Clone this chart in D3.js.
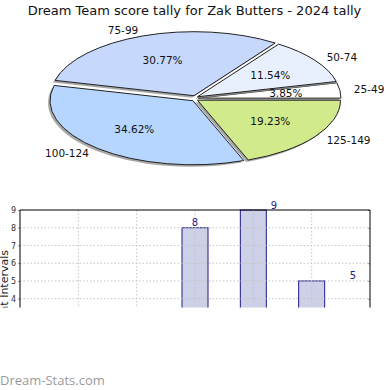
<!DOCTYPE html>
<html><head><meta charset="utf-8">
<script src="https://cdn.jsdelivr.net/npm/d3@7"></script>
<style>html,body{margin:0;padding:0;background:#fff;}svg{display:block;}</style>
</head><body>
<script>
const categories = ["25-49","50-74","75-99","100-124","125-149"];
const counts = [1,3,8,9,5];
const sliceColors = ["#ffffff","#e9f0fd","#c6d8fc","#b6d6ff","#d1ea8c"];
const yTicks = [1,2,3,4,5,6,7,8,9];
const titleText = "Dream Team score tally for Zak Butters - 2024 tally";
const yAxisTitle = "Count Intervals";

(function(){
const W = 390, H = 390;
const svg = d3.select("body").append("svg").attr("width", W).attr("height", H);

svg.append("text").attr("x", 194.5).attr("y", 15).attr("text-anchor","middle")
  .attr("font-family","DejaVu Sans").attr("font-size", 13).attr("fill","#111").text(titleText);

// ---- Pie ----
const cx = 195, cy = 98.5, rx = 143, ry = 64, explode = 3;
const total = d3.sum(counts);
const pie = d3.pie().sort(null).startAngle(Math.PI/2).endAngle(Math.PI/2 - 2*Math.PI);
const arcs = pie(counts);
const arcGen = d3.arc().innerRadius(0).outerRadius(1);
const fmt = d3.format(".2f");

const pg = svg.append("g");
arcs.forEach((d, i) => {
  const m = (d.startAngle + d.endAngle)/2;
  const ox = explode*Math.sin(m), oy = -explode*Math.cos(m);
  pg.append("path").attr("d", arcGen(d))
    .attr("transform", `translate(${cx+ox-2},${cy+oy+2}) scale(${rx},${ry})`)
    .attr("fill", "#8a8a8a").attr("opacity", 0.75);
  pg.append("path").attr("d", arcGen(d))
    .attr("transform", `translate(${cx+ox},${cy+oy}) scale(${rx},${ry})`)
    .attr("fill", sliceColors[i]).attr("stroke", "#222").attr("stroke-width", 1)
    .attr("vector-effect","non-scaling-stroke");
});
arcs.forEach((d, i) => {
  const m = (d.startAngle + d.endAngle)/2;
  const s = Math.sin(m), c = Math.cos(m);
  pg.append("text").attr("x", cx + rx*0.64*s).attr("y", cy - ry*0.64*c)
    .attr("dy","0.35em").attr("text-anchor","middle")
    .attr("font-family","DejaVu Sans").attr("font-size",10.5).attr("fill","#111")
    .text(fmt(counts[i]/total*100) + "%");
  pg.append("text").attr("x", cx + (rx+17)*s).attr("y", cy - (ry+9)*c)
    .attr("dy","0.35em").attr("text-anchor", s >= 0 ? "start" : "end")
    .attr("font-family","DejaVu Sans").attr("font-size",10.5).attr("fill","#111")
    .text(categories[i]);
});

// ---- Bar chart ----
const pLeft = 20, pRight = 370, pTop = 210, pBottom = 369.6, clipBottom = 307.5;
const defs = svg.append("defs");
defs.append("clipPath").attr("id","clipAll")
  .append("rect").attr("x",0).attr("y",195).attr("width",W).attr("height",clipBottom-195);
defs.append("clipPath").attr("id","clipLbl")
  .append("rect").attr("x",0).attr("y",195).attr("width",W).attr("height",303.5-195);
const bg = svg.append("g").attr("clip-path","url(#clipAll)");

const x = d3.scaleLinear().domain([-1, categories.length]).range([pLeft, pRight]);
const xLabel = d3.scaleLinear().domain([2, 3]).range([195, 274]);
const y = d3.scaleLinear().domain([0, 9]).range([pBottom, pTop]);
const barW = 26;

bg.selectAll("rect.bar").data(counts).join("rect").attr("class","bar")
  .attr("x", (d,i) => x(i) - barW/2).attr("y", d => y(d))
  .attr("width", barW).attr("height", d => y(0) - y(d))
  .attr("fill","#cdd0e6").attr("stroke","#1c1c86").attr("stroke-width",1);

bg.selectAll("line.hg").data(yTicks.slice(0,-1)).join("line").attr("class","hg")
  .attr("x1", pLeft).attr("x2", pRight).attr("y1", d => y(d)).attr("y2", d => y(d))
  .attr("stroke","#c4c4c4").attr("stroke-dasharray","1.5,2");
bg.selectAll("line.vg").data(categories).join("line").attr("class","vg")
  .attr("x1", (d,i) => x(i)).attr("x2", (d,i) => x(i)).attr("y1", pTop).attr("y2", pBottom)
  .attr("stroke","#c4c4c4").attr("stroke-dasharray","1.5,2");

svg.append("g").attr("clip-path","url(#clipLbl)")
  .selectAll("text.val").data(counts).join("text").attr("class","val")
  .attr("x", (d,i) => xLabel(i)).attr("y", d => y(d) - 5).attr("dy","0.35em")
  .attr("text-anchor","middle").attr("font-family","DejaVu Sans").attr("font-size",10)
  .attr("fill","#1c1c86").text(d => d);

const yAxis = d3.axisLeft(y).tickValues(yTicks).tickSize(2).tickPadding(2);
const ya = bg.append("g").attr("transform",`translate(${pLeft},0)`).call(yAxis);
ya.select(".domain").remove();
ya.selectAll("line").attr("stroke","#999");
ya.selectAll("text").attr("font-family","DejaVu Sans").attr("font-size",8).attr("fill","#333");
const yAxisR = d3.axisLeft(y).tickValues(yTicks).tickSize(2).tickFormat("");
const yr = bg.append("g").attr("transform",`translate(${pRight},0)`).call(yAxisR);
yr.select(".domain").remove();
yr.selectAll("line").attr("stroke","#999");

bg.append("path").attr("d", `M${pLeft},${pBottom}V${pTop}H${pRight}V${pBottom}`)
  .attr("fill","none").attr("stroke","#000").attr("stroke-width",1);

bg.append("text").attr("transform",`translate(8,250) rotate(-90)`)
  .attr("text-anchor","end").attr("font-family","DejaVu Sans").attr("font-size",11)
  .attr("fill","#222").text(yAxisTitle);

svg.append("text").attr("x",0).attr("y",385).attr("font-family","Open Sans")
  .attr("font-size",13).attr("fill","#9a9a9a").text("Dream-Stats.com");
})();
</script>
</body></html>
